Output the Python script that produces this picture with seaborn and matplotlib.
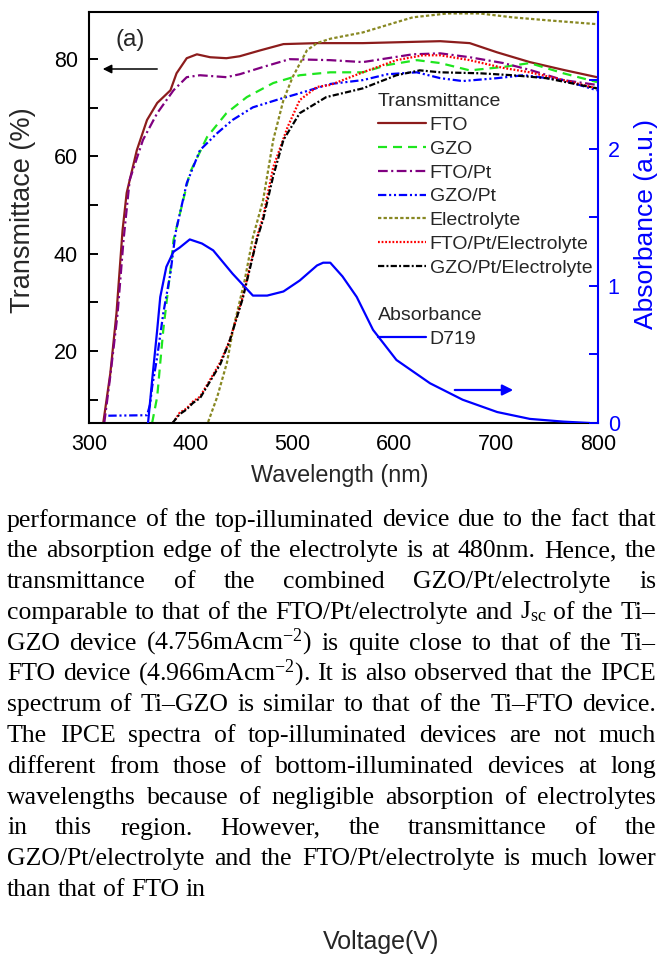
import numpy as np
import pandas as pd
import matplotlib
matplotlib.use("Agg")
import matplotlib.pyplot as plt
import seaborn as sns
from matplotlib.ticker import MultipleLocator

# ---------------- data ----------------
fto_wl = [314, 321, 327, 333, 337, 347, 357, 367, 380, 386, 396, 406, 419, 435, 448, 468, 491, 524, 569, 645, 674, 701, 733, 766, 799]
fto_t = [5.2, 15.5, 27.8, 44.9, 52.5, 61.3, 67.5, 71.0, 73.6, 77.1, 80.2, 81.0, 80.4, 80.2, 80.6, 81.8, 83.1, 83.3, 83.3, 83.7, 83.3, 81.4, 79.4, 77.8, 76.3]

gzo_wl = [362, 367, 370, 373, 380, 383, 399, 416, 435, 455, 481, 507, 537, 569, 593, 622, 645, 674, 707, 733, 766, 799]
gzo_t = [5.2, 10.6, 17.6, 24.4, 36.7, 42.8, 56.6, 64.0, 68.9, 72.2, 75.1, 76.7, 77.3, 77.3, 78.8, 79.8, 79.2, 77.7, 78.4, 79.2, 77.1, 75.3]

ftopt_wl = [315, 321, 328, 334, 340, 353, 367, 383, 396, 409, 435, 448, 471, 497, 537, 569, 618, 645, 674, 707, 733, 766, 799]
ftopt_t = [5.2, 15.0, 27.5, 43.0, 55.2, 63.4, 68.9, 73.6, 76.3, 76.7, 76.3, 76.9, 78.4, 80.0, 79.8, 79.4, 81.0, 81.2, 80.4, 79.2, 77.8, 75.7, 74.7]

gzopt_wl = [319, 357, 360, 362, 367, 373, 380, 385, 396, 409, 426, 441, 461, 484, 507, 537, 569, 593, 622, 645, 667, 701, 727, 766, 799]
gzopt_t = [6.7, 6.8, 9.0, 12.6, 18.8, 27.8, 36.0, 44.3, 54.5, 61.3, 64.8, 67.5, 70.1, 71.6, 73.0, 74.9, 75.7, 76.9, 77.3, 76.1, 75.5, 76.1, 76.7, 75.7, 73.6]

elec_wl = [417, 426, 435.5, 441.5, 453, 461, 471, 481, 491, 500, 514, 524, 537, 569, 602, 618, 652, 684, 716, 750, 799]
elec_t = [5.4, 10.6, 17.6, 24.4, 34.6, 43.4, 51.0, 63.4, 71.6, 76.3, 81.8, 83.3, 84.2, 85.5, 87.6, 88.6, 89.4, 89.4, 88.6, 88.0, 87.2]

ftoptel_wl = [382.5, 389, 396, 402, 409, 419, 428.7, 438.5, 451, 465, 471, 481, 495, 507, 524, 537, 569, 602, 628, 645, 674, 707, 733, 766, 799]
ftoptel_t = [5.2, 7.3, 8.2, 9.6, 10.6, 14.1, 17.6, 22.3, 31.1, 43.4, 47.6, 57.8, 66.0, 71.6, 74.3, 74.7, 77.3, 79.8, 80.8, 80.8, 79.8, 78.2, 77.3, 75.7, 74.0]

gzoptel_wl = [382, 389, 396, 402, 409, 419, 429, 438, 451, 465, 471, 481, 491, 507, 533, 569, 602, 625, 645, 684, 716, 749, 799]
gzoptel_t = [5.2, 7.0, 8.0, 9.3, 10.3, 13.8, 17.3, 22.0, 30.8, 43.0, 47.0, 56.0, 63.4, 68.9, 72.2, 74.0, 76.7, 77.7, 77.3, 77.1, 76.7, 76.1, 74.0]

d719_wl = [358, 362, 367, 370, 376, 383, 389, 399, 411, 422, 441, 461, 475, 491, 507, 524, 530, 537, 549, 563, 579, 602, 635, 667, 701, 733, 766, 792]
d719_a = [0.0, 0.31, 0.68, 0.92, 1.14, 1.25, 1.28, 1.34, 1.31, 1.26, 1.09, 0.93, 0.93, 0.96, 1.04, 1.15, 1.17, 1.17, 1.07, 0.92, 0.68, 0.46, 0.29, 0.17, 0.08, 0.03, 0.01, 0.0]

series_labels = ["FTO", "GZO", "FTO/Pt", "GZO/Pt", "Electrolyte", "FTO/Pt/Electrolyte", "GZO/Pt/Electrolyte"]
x_ticks = [300, 400, 500, 600, 700, 800]
y_ticks = [20, 40, 60, 80]
abs_ticks = [0, 1, 2]

paragraph = [
    "performance of the top-illuminated device due to the fact that",
    "the absorption edge of the electrolyte is at 480nm. Hence, the",
    "transmittance of the combined GZO/Pt/electrolyte is",
    "comparable to that of the FTO/Pt/electrolyte and J$_\\mathrm{sc}$ of the Ti\u2013",
    "GZO device (4.756mAcm$^{-2}$) is quite close to that of the Ti\u2013",
    "FTO device (4.966mAcm$^{-2}$). It is also observed that the IPCE",
    "spectrum of Ti\u2013GZO is similar to that of the Ti\u2013FTO device.",
    "The IPCE spectra of top-illuminated devices are not much",
    "different from those of bottom-illuminated devices at long",
    "wavelengths because of negligible absorption of electrolytes",
    "in this region. However, the transmittance of the",
    "GZO/Pt/electrolyte and the FTO/Pt/electrolyte is much lower",
    "than that of FTO in",
]
footer = "Voltage(V)"

# ---------------- style ----------------
sns.set_style("white")
plt.rcParams["font.family"] = ["Liberation Sans", "DejaVu Sans"]
plt.rcParams["mathtext.fontset"] = "custom"
plt.rcParams["mathtext.rm"] = "Liberation Serif"
plt.rcParams["mathtext.it"] = "Liberation Serif:italic"
plt.rcParams["lines.scale_dashes"] = False

W, H = 658, 975
fig = plt.figure(figsize=(W / 100, H / 100), dpi=100)
ax = fig.add_axes([89 / W, 1 - 423 / H, (598 - 89) / W, (423 - 12) / H])
ax2 = ax.twinx()

styles = [
    dict(color="#8c1c1c", linestyle="-"),
    dict(color="#1ee61e", linestyle=(0, (6.5, 4.3))),
    dict(color="#800080", linestyle=(0, (7, 2.5, 1.5, 2.5))),
    dict(color="#0000ff", linestyle=(0, (6, 2, 1.5, 2, 1.5, 2))),
    dict(color="#888822", linestyle=(0, (2.4, 1.6))),
    dict(color="#ff0000", linestyle=(0, (1.3, 1.3))),
    dict(color="#000000", linestyle=(0, (4.5, 1.6, 1.4, 1.6))),
]
data = [(fto_wl, fto_t), (gzo_wl, gzo_t), (ftopt_wl, ftopt_t), (gzopt_wl, gzopt_t),
        (elec_wl, elec_t), (ftoptel_wl, ftoptel_t), (gzoptel_wl, gzoptel_t)]

handles = []
for (wl, t), lab, st in zip(data, series_labels, styles):
    df = pd.DataFrame({"wl": wl, "T": t})
    sns.lineplot(data=df, x="wl", y="T", ax=ax, lw=1.6, label=lab, **st)
    handles.append(ax.get_lines()[-1])

dfa = pd.DataFrame({"wl": d719_wl, "A": d719_a})
sns.lineplot(data=dfa, x="wl", y="A", ax=ax2, color="#0000ff", lw=1.6, label="D719")
abs_handle = ax2.get_lines()[-1]

ax.set_xlim(300, 800)
ax.set_ylim(5.2, 89.7)
ax2.set_ylim(0, 3.0)

ax.xaxis.set_major_locator(plt.FixedLocator(x_ticks))
ax.xaxis.set_minor_locator(MultipleLocator(50))
ax.yaxis.set_major_locator(plt.FixedLocator(y_ticks))
ax.yaxis.set_minor_locator(plt.FixedLocator([10, 30, 50, 70]))
ax2.yaxis.set_major_locator(plt.FixedLocator(abs_ticks))
ax2.yaxis.set_minor_locator(plt.FixedLocator([0.5, 1.5, 2.5]))

ax.tick_params(axis="both", which="both", direction="in", length=6.5, width=1.4,
               labelsize=15.5, top=False, right=False, colors="black")
ax.tick_params(axis="y", pad=8)
ax.tick_params(axis="x", pad=8)
ax2.tick_params(axis="y", which="both", direction="in", length=6.5, width=1.4,
                labelsize=15.5, colors="#0000ff", pad=7)

for s in ["left", "bottom", "top"]:
    ax.spines[s].set_linewidth(1.5)
    ax.spines[s].set_color("black")
    ax2.spines[s].set_visible(False)
ax.spines["right"].set_visible(False)
ax2.spines["right"].set_color("#0000ff")
ax2.spines["right"].set_linewidth(1.5)

ax.set_xlabel("Wavelength (nm)", fontsize=16.8)
ax.set_ylabel("Transmittace (%)", fontsize=19.5)
ax2.set_ylabel("Absorbance (a.u.)", fontsize=19, color="#0000ff")
ax.xaxis.set_label_coords((340 - 89) / 509, -(464 - 423) / 411)
ax.yaxis.set_label_coords((36 - 89) / 509, (423 - 210) / 411)
ax2.yaxis.set_label_coords((634 - 89) / 509, (423 - 224) / 411)

if ax.get_legend() is not None:
    ax.get_legend().remove()
if ax2.get_legend() is not None:
    ax2.get_legend().remove()

leg_kw = dict(loc="upper left", frameon=False, fontsize=14.0, title_fontsize=14.0,
              handlelength=2.45, handletextpad=0.2, labelspacing=0.32, borderpad=0,
              borderaxespad=0, alignment="left")
leg1 = ax2.legend(handles, series_labels, title="Transmittance",
                  bbox_to_anchor=((378 - 89) / 509, (423 - 93) / 411), **leg_kw)
ax2.add_artist(leg1)
leg2 = ax2.legend([abs_handle], ["D719"], title="Absorbance",
                  bbox_to_anchor=((378 - 89) / 509, (423 - 307) / 411), **leg_kw)

ax.text((130 - 89) / 509, (423 - 40) / 411, "(a)", transform=ax.transAxes, fontsize=17.5,
        ha="center", va="center")

ax.annotate("", xy=((100 - 89) / 509, (423 - 69) / 411), xytext=((160 - 89) / 509, (423 - 69) / 411),
            xycoords="axes fraction", textcoords="axes fraction",
            arrowprops=dict(arrowstyle="-|>", color="black", lw=1.1, mutation_scale=13))
ax.annotate("", xy=((516 - 89) / 509, (423 - 390) / 411), xytext=((452 - 89) / 509, (423 - 390) / 411),
            xycoords="axes fraction", textcoords="axes fraction",
            arrowprops=dict(arrowstyle="-|>", color="#0000ff", lw=1.6, mutation_scale=16))

# ---------------- paragraph text (justified, word by word) ----------------
renderer = fig.canvas.get_renderer()
L, R = 7, 656
base0, step = 526.5, 30.8


def word_widths(words, size):
    ts = [fig.text(0, 0, w, family=["Liberation Serif", "DejaVu Serif"], fontsize=size) for w in words]
    ws = [t.get_window_extent(renderer).width for t in ts]
    for t in ts:
        t.remove()
    return ws


size = 18.5
while size > 12:
    ok = True
    for line in paragraph[:-1]:
        ws = word_widths(line.split(" "), size)
        if (R - L - sum(ws)) / (len(ws) - 1) < 4.5:
            ok = False
            break
    if ok:
        break
    size -= 0.25

para_font = dict(family=["Liberation Serif", "DejaVu Serif"], fontsize=size, color="black")
for i, line in enumerate(paragraph):
    y = 1 - (base0 + step * i) / H
    words = line.split(" ")
    texts = [fig.text(0, y, w, ha="left", va="baseline", **para_font) for w in words]
    widths = [t.get_window_extent(renderer).width for t in texts]
    if i == len(paragraph) - 1:
        sp = fig.text(0, y, "a b", **para_font)
        sp2 = fig.text(0, y, "ab", **para_font)
        gap = sp.get_window_extent(renderer).width - sp2.get_window_extent(renderer).width
        sp.remove(); sp2.remove()
    else:
        gap = (R - L - sum(widths)) / (len(words) - 1)
    x = L
    for t, w in zip(texts, widths):
        t.set_x(x / W)
        x += w + gap

fig.text(381 / W, 1 - 942 / H, footer, ha="center", va="center", fontsize=18,
         family=["Liberation Sans", "DejaVu Sans"])

fig.savefig("out.png", dpi=100)
